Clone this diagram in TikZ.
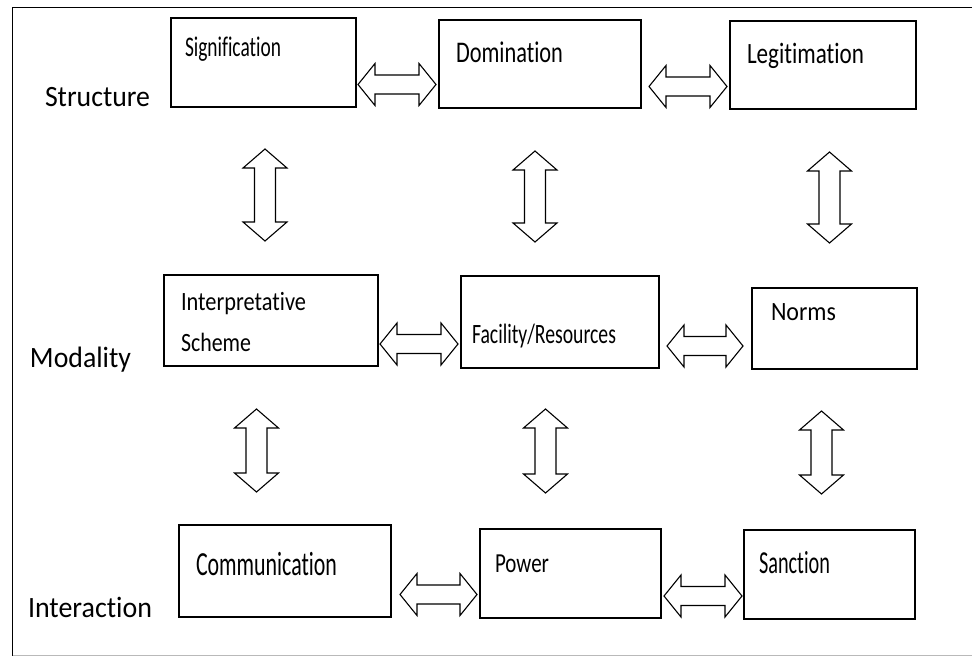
\documentclass[tikz,border=0pt]{standalone}
\usepackage{fontspec}
\usepackage{graphicx}
\setmainfont{Carlito}[Ligatures=CommonOff]
\usetikzlibrary{calc}
% text of size #1, squeezed/stretched to width #2 (pt)
\newcommand\tx[3]{{\fontsize{#1}{#1}\selectfont\resizebox{#2pt}{\height}{#3}}}
% horizontal double block arrow: left node, right node, centre y, gap left, gap right
\newcommand\harr[5]{%
  \path (#1.east) ++(#4,0) coordinate (ha) (#2.west) ++(-#5,0) coordinate (hb) (0,#3) coordinate (hy);
  \draw[blk] (ha |- hy) -- ($(ha |- hy)+(17,-21)$) -- ($(ha |- hy)+(17,-9.5)$) -- ($(hb |- hy)+(-17,-9.5)$)
    -- ($(hb |- hy)+(-17,-21)$) -- (hb |- hy) -- ($(hb |- hy)+(-17,21)$) -- ($(hb |- hy)+(-17,9.5)$)
    -- ($(ha |- hy)+(17,9.5)$) -- ($(ha |- hy)+(17,21)$) -- cycle;}
% vertical double block arrow: top node, bottom node, centre x, gap top, gap bottom
\newcommand\varr[5]{%
  \path (#1.south) ++(0,#4) coordinate (vt) (#2.north) ++(0,-#5) coordinate (vb) (#3,0) coordinate (vx);
  \draw[blk] (vt -| vx) -- ($(vt -| vx)+(22,19)$) -- ($(vt -| vx)+(10.5,19)$) -- ($(vb -| vx)+(10.5,-19)$)
    -- ($(vb -| vx)+(22,-19)$) -- (vb -| vx) -- ($(vb -| vx)+(-22,-19)$) -- ($(vb -| vx)+(-10.5,-19)$)
    -- ($(vt -| vx)+(-10.5,19)$) -- ($(vt -| vx)+(-22,19)$) -- cycle;}
\begin{document}
\begin{tikzpicture}[x=1pt,y=-1pt,
  box/.style={draw, line width=1.4pt, inner sep=0pt, outer sep=0pt},
  txt/.style={anchor=base west, inner sep=0pt, outer sep=0pt},
  blk/.style={draw, line width=1.1pt, fill=white, line join=miter}]
\useasboundingbox (0,0) rectangle (972,658);
\fill[white] (0,0) rectangle (972,658);
% frame
\draw[line width=1.5pt] (972,7.5) -- (12.5,7.5) -- (12.5,656);
\draw[gray!55, line width=1pt] (12.5,655) -- (972,655);

% boxes
\node[box, minimum width=185pt, minimum height=89pt] (sig) at (263.5,62.5) {};
\node[box, minimum width=202pt, minimum height=88pt] (dom) at (540,64) {};
\node[box, minimum width=186pt, minimum height=88pt] (leg) at (823,65) {};
\node[box, minimum width=214pt, minimum height=91pt] (int) at (271,320.5) {};
\node[box, minimum width=198pt, minimum height=92pt] (fac) at (560,322) {};
\node[box, minimum width=165pt, minimum height=81pt] (nor) at (834.5,328.5) {};
\node[box, minimum width=212pt, minimum height=92pt] (com) at (285,571) {};
\node[box, minimum width=181pt, minimum height=89pt] (pow) at (570.5,573.5) {};
\node[box, minimum width=171pt, minimum height=89pt] (san) at (829.5,574.5) {};

% box texts
\node[txt] (tsig) at (185,57)  {\tx{28.4}{96}{Signification}};
\node[txt] (tdom) at (456,63)  {\tx{30}{107}{Domination}};
\node[txt] (tleg) at (747,64)  {\tx{29.5}{117}{Legitimation}};
\node[txt] (tint) at (181,310) {\tx{26.4}{125}{Interpretative}};
\node[txt] (tsch) at (181,351) {\tx{26.4}{70}{Scheme}};
\node[txt] (tfac) at (472,343) {\tx{28}{144}{Facility/Resources}};
\node[txt] (tnor) at (771,320) {\tx{26.4}{65}{Norms}};
\node[txt] (tcom) at (196,575) {\tx{33.7}{141}{Communication}};
\node[txt] (tpow) at (495,572) {\tx{27.5}{54}{Power}};
\node[txt] (tsan) at (759,573) {\tx{32}{71}{Sanction}};

% row labels
\node[txt] (lstr) at (45,107) {\tx{29.5}{105}{Structure}};
\node[txt] (lmod) at (30,367) {\tx{29.5}{101}{Modality}};
\node[txt] (lint) at (28,617) {\tx{29.5}{124}{Interaction}};

% horizontal arrows
\harr{sig}{dom}{84.5}{2}{3}
\harr{dom}{leg}{86.5}{8}{3}
\harr{int}{fac}{344}{2}{3}
\harr{fac}{nor}{346}{8}{9}
\harr{com}{pow}{594.5}{9}{3}
\harr{pow}{san}{596}{3}{2}

% vertical arrows
\varr{sig}{int}{265}{42}{34}
\varr{dom}{fac}{535}{43}{34}
\varr{leg}{nor}{829.5}{43}{45}
\varr{int}{com}{256.5}{43}{33}
\varr{fac}{pow}{545.5}{41}{36}
\varr{nor}{san}{821.5}{42}{36}
\end{tikzpicture}
\end{document}
